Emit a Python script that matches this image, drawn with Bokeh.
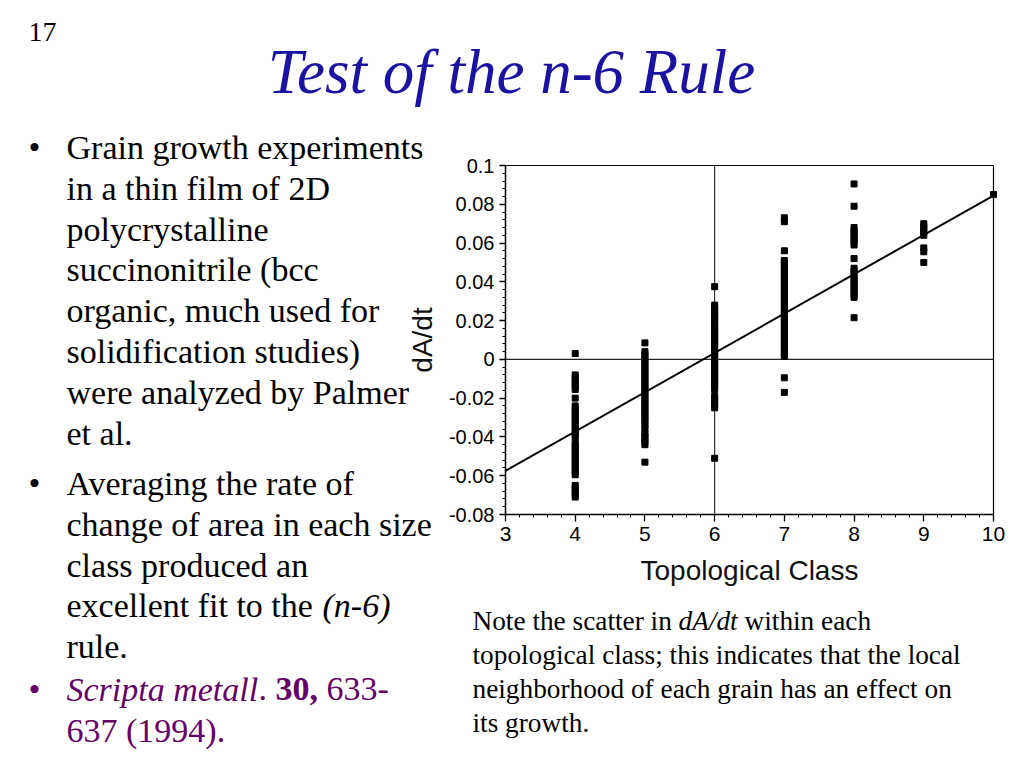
from bokeh.plotting import figure
from bokeh.models import Label, FixedTicker
from bokeh.embed import file_html
from bokeh.resources import INLINE
import numpy as np

# ---------------- data ----------------
classes = [4, 5, 6, 7, 8, 9, 10]

dadt_n4 = [0.003,
           -0.008, -0.0095, -0.011, -0.0125, -0.014, -0.0155,
           -0.020,
           -0.024, -0.0255, -0.027, -0.0285, -0.030, -0.0315, -0.033, -0.0345,
           -0.036, -0.0375, -0.039, -0.040,
           -0.043, -0.0445, -0.046, -0.0475, -0.049, -0.0505, -0.052, -0.0535,
           -0.055, -0.0565, -0.058, -0.0595,
           -0.065, -0.0665, -0.068, -0.0695, -0.071]
dadt_n5 = [0.0085,
           0.004, 0.0025, 0.001, -0.0005, -0.002, -0.0035, -0.005, -0.0065,
           -0.008, -0.0095, -0.011, -0.0125, -0.014, -0.0155, -0.017, -0.0185,
           -0.020, -0.0215, -0.023, -0.0245, -0.026, -0.0275, -0.029, -0.0305, -0.032,
           -0.034, -0.0355,
           -0.038, -0.0395, -0.041, -0.0425, -0.044,
           -0.053]
dadt_n6 = [0.0375,
           0.028, 0.0265, 0.025, 0.0235, 0.022, 0.0205, 0.019, 0.0175, 0.016,
           0.0145, 0.013, 0.0115, 0.010, 0.0085, 0.007, 0.0055, 0.004, 0.0025,
           0.001, -0.0005, -0.002, -0.0035, -0.005, -0.0065, -0.008, -0.0095,
           -0.011, -0.0125, -0.014, -0.0155,
           -0.019, -0.0205, -0.022, -0.0235, -0.025,
           -0.051]
dadt_n7 = [0.073, 0.071,
           0.056,
           0.051, 0.0495, 0.048, 0.0465, 0.045, 0.0435, 0.042, 0.0405, 0.039,
           0.0375, 0.036, 0.0345, 0.033, 0.0315, 0.030, 0.0285, 0.027, 0.0255,
           0.024, 0.0225, 0.021, 0.0195, 0.018, 0.0165, 0.015, 0.0135, 0.012,
           0.0105, 0.009, 0.0075, 0.006, 0.0045, 0.003, 0.0015,
           -0.0095, -0.017]
dadt_n8 = [0.0905, 0.079,
           0.068, 0.0665, 0.065, 0.0635, 0.062, 0.0605, 0.059,
           0.052,
           0.047, 0.0455, 0.044, 0.0425, 0.041, 0.0395, 0.038, 0.0365, 0.035,
           0.0335, 0.032,
           0.0215]
dadt_n9 = [0.070, 0.0685, 0.067, 0.0655, 0.064,
           0.0575, 0.0555,
           0.050]
dadt_n10 = [0.085]

fit_x = [3, 10]
fit_y = [-0.0575, 0.0845]

x_min, x_max = 3, 10
y_min, y_max = -0.08, 0.1
x_ticks = [3, 4, 5, 6, 7, 8, 9, 10]
x_tick_labels = ["3", "4", "5", "6", "7", "8", "9", "10"]
y_ticks = [-0.08, -0.06, -0.04, -0.02, 0.0, 0.02, 0.04, 0.06, 0.08, 0.1]
y_tick_labels = ["-0.08", "-0.06", "-0.04", "-0.02", "0", "0.02", "0.04", "0.06", "0.08", "0.1"]

x_label = "Topological Class"
y_label = "dA/dt"

# ---------------- layout geometry (page pixels) ----------------
W, H = 1024, 768
PL, PR, PT, PB = 505, 993, 165, 514   # chart box on the page
sx = (PR - PL) / (x_max - x_min)
sy = (PB - PT) / (y_max - y_min)
xr = (x_min - PL / sx, x_max + (W - PR) / sx)
yr = (y_min - (H - PB) / sy, y_max + PT / sy)

p = figure(width=W, height=H, x_range=xr, y_range=yr,
           min_border=0, output_backend="svg", toolbar_location=None,
           background_fill_color="white", border_fill_color="white")
p.xgrid.visible = False
p.ygrid.visible = False
p.outline_line_color = None

xa = p.xaxis[0]
ya = p.yaxis[0]
xa.fixed_location = y_min
ya.fixed_location = x_min
xa.bounds = (x_min, x_max)
ya.bounds = (y_min, y_max)

for ax in (xa, ya):
    ax.axis_line_color = "black"
    ax.axis_line_width = 1.5
    ax.major_tick_line_color = "black"
    ax.minor_tick_line_color = "black"
    ax.major_tick_line_width = 1.3
    ax.minor_tick_line_width = 1.0
    ax.major_label_text_font = "Liberation Sans"
    ax.major_label_text_color = "black"
    ax.axis_label_text_font = "Liberation Sans"
    ax.axis_label_text_font_style = "normal"
    ax.axis_label_text_color = "#111111"
    ax.axis_label_text_font_size = "28px"

xminor = [float(v) for v in np.arange(x_min, x_max + 1e-6, 0.2)]
yminor = [float(v) for v in np.arange(y_min, y_max + 1e-6, 0.004)]
xa.ticker = FixedTicker(ticks=x_ticks, minor_ticks=xminor)
ya.ticker = FixedTicker(ticks=y_ticks, minor_ticks=yminor)
xa.major_label_overrides = {t: s for t, s in zip(x_ticks, x_tick_labels)}
ya.major_label_overrides = {t: s for t, s in zip(y_ticks, y_tick_labels)}

xa.major_tick_in = 0
xa.major_tick_out = 7
xa.minor_tick_in = 0
xa.minor_tick_out = 3
ya.major_tick_in = 0
ya.major_tick_out = 6
ya.minor_tick_in = 0
ya.minor_tick_out = 3

xa.major_label_text_font_size = "21px"
ya.major_label_text_font_size = "20px"
xa.major_label_standoff = 5
ya.major_label_standoff = 5
xa.axis_label = x_label
ya.axis_label = y_label
xa.axis_label_standoff = 11
ya.axis_label_standoff = 8

# chart box (top and right edges)
p.segment([x_min, x_max], [y_max, y_min], [x_max, x_max], [y_max, y_max],
          line_color="black", line_width=1.2)
# crosshair at n = 6 and dA/dt = 0
p.segment([6, x_min], [y_min, 0], [6, x_max], [y_max, 0],
          line_color="#222222", line_width=1.1)

# fit line
p.line(fit_x, fit_y, line_color="black", line_width=2)

# scatter points
series = [dadt_n4, dadt_n5, dadt_n6, dadt_n7, dadt_n8, dadt_n9, dadt_n10]
xs, ys = [], []
for c, vals in zip(classes, series):
    xs += [c] * len(vals)
    ys += vals
p.scatter(xs, ys, marker="square", size=6, fill_color="black", line_color="black")

# ---------------- slide texts ----------------
SHIFT = 0.33  # rendered baseline sits this many em below the requested one


def put(txt, px, py, size, color="black", style="normal",
        font="Liberation Serif", align="left"):
    p.add_layout(Label(x=px, y=H - (py - SHIFT * size), x_units="screen", y_units="screen",
                       text=txt, text_font=font, text_font_size=f"{size}px",
                       text_color=color, text_font_style=style,
                       text_baseline="alphabetic", text_align=align))


put("17", 28, 41, 28)
put("Test of the n-6 Rule", 511, 92, 63, color="#1a12a0", style="italic", align="center")

body = 34
lh = 40.9
lines1 = ["Grain growth experiments", "in a thin film of 2D", "polycrystalline",
          "succinonitrile (bcc", "organic, much used for", "solidification studies)",
          "were analyzed by Palmer", "et al."]
y0 = 158
put("\u2022", 28, y0, body)
for i, t in enumerate(lines1):
    put(t, 66, y0 + i * lh, body)

y1 = 494
put("\u2022", 28, y1, body)
lines2 = ["Averaging the rate of", "change of area in each size", "class produced an",
          "excellent fit to the", "rule."]
for i, t in enumerate(lines2):
    put(t, 66, y1 + i * lh, body)
put("(n-6)", 322, y1 + 3 * lh, body, style="italic")

purple = "#660066"
y2 = 700
put("\u2022", 28, y2, body, color=purple)
put("Scripta metall", 66, y2, body, color=purple, style="italic")
put(".", 258, y2, body, color=purple)
put("30,", 275, y2, body, color=purple, style="bold")
put("633-", 326, y2, body, color=purple)
put("637 (1994).", 66, y2 + lh, body, color=purple)

note = 27.3
ny = 630
nlh = 33.7
put("Note the scatter in", 472, ny, note)
put("dA/dt", 678, ny, note, style="italic")
put("within each", 744, ny, note)
put("topological class; this indicates that the local", 472, ny + nlh, note)
put("neighborhood of each grain has an effect on", 472, ny + 2 * nlh, note)
put("its growth.", 472, ny + 3 * nlh, note)

open("out.html", "w").write(file_html(p, INLINE))
